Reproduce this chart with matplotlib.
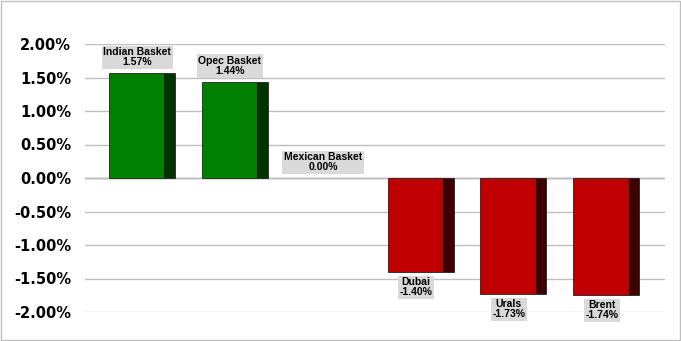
import numpy as np
import matplotlib.pyplot as plt
from matplotlib.patches import Rectangle
from matplotlib.ticker import FuncFormatter

names = ["Indian Basket", "Opec Basket", "Mexican Basket", "Dubai", "Urals", "Brent"]
changes = [1.57, 1.44, 0.00, -1.40, -1.73, -1.74]
yticks = [-2.0, -1.5, -1.0, -0.5, 0.0, 0.5, 1.0, 1.5, 2.0]

fig = plt.figure(figsize=(6.81, 3.41), dpi=100)
ax = fig.add_axes([85 / 681, 29 / 341, 580 / 681, 268 / 341])

x = np.arange(len(names))
front_w = 0.6
side_w = 0.11
face = ["#008000" if v >= 0 else "#c00000" for v in changes]
side = ["#003300" if v >= 0 else "#3f0000" for v in changes]
lw = [0.6 if v != 0 else 0 for v in changes]

ax.bar(x - side_w / 2, changes, width=front_w, color=face, edgecolor="#222222",
       linewidth=lw, zorder=3)
ax.bar(x + front_w / 2, changes, width=side_w, color=side, edgecolor="#222222",
       linewidth=lw, zorder=3)

for xi, name, v in zip(x, names, changes):
    label = f"{name}\n{v:.2f}%"
    if v >= 0:
        off, va = 4, "bottom"
    else:
        off, va = -4, "top"
    ax.annotate(label, (xi - 0.05, v), xytext=(0, off), textcoords="offset points",
                ha="center", va=va, fontsize=7.5, fontweight="bold",
                family="Liberation Sans", linespacing=1.0, zorder=4,
                bbox=dict(boxstyle="square,pad=0.15", fc="#d9d9d9", ec="none"))

ax.set_xlim(-0.61, 5.63)
ax.set_ylim(-2.0, 2.0)
ax.set_yticks(yticks)
ax.yaxis.set_major_formatter(FuncFormatter(lambda v, p: f"{v:.2f}%"))
ax.set_xticks([])
ax.grid(axis="y", color="#bfbfbf", linewidth=1, zorder=0)
ax.axhline(0, color="#808080", linewidth=1, zorder=1)
for s in ax.spines.values():
    s.set_visible(False)
ax.tick_params(axis="y", length=0, pad=10, labelsize=10.5)
for t in ax.get_yticklabels():
    t.set_fontweight("bold")

fig.patches.append(Rectangle((0.002, 0.003), 0.996, 0.994, transform=fig.transFigure,
                             fill=False, edgecolor="#bfbfbf", linewidth=1))

fig.savefig("out.png", dpi=100)
